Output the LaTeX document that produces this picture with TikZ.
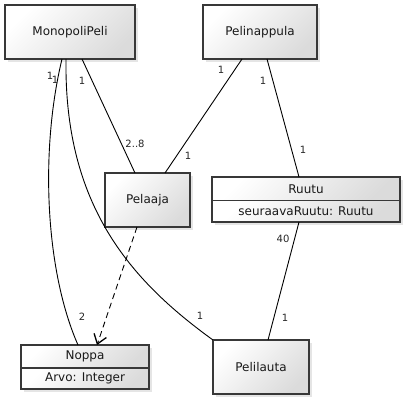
\documentclass[tikz,border=0pt]{standalone}
\usepackage{fontspec}
\setmainfont{DejaVu Sans}
\usetikzlibrary{shadows,shadings,arrows.meta}
\begin{document}
\begin{tikzpicture}[x=1pt,y=-1pt,
  umlbox/.style={draw=black!78,line width=1.2pt,rectangle,inner sep=0pt,outer sep=0pt,
    shading=axis,top color=white,bottom color=black!14,shading angle=45,
    drop shadow={opacity=0.2,shadow xshift=2.5pt,shadow yshift=-2.5pt},
    font=\fontsize{12}{14}\selectfont,text=black!90},
  conn/.style={line width=0.9pt,black},
  mult/.style={font=\fontsize{10}{12}\selectfont,text=black!85,inner sep=0pt}]
\useasboundingbox[fill=white] (0,0) rectangle (403,400);
% classes
\node[umlbox,minimum width=130pt,minimum height=54pt] (mono) at (70,32) {MonopoliPeli};
\node[umlbox,minimum width=114pt,minimum height=54pt] (nappula) at (260,32) {Pelinappula};
\node[umlbox,minimum width=85pt,minimum height=54pt] (pelaaja) at (147.5,200) {Pelaaja};
\node[umlbox,minimum width=188pt,minimum height=23.7pt] (ruutu) at (306,188.85) {Ruutu};
\node[umlbox,minimum width=188pt,minimum height=21.3pt] (ruutuattr) at (306,211.35) {seuraavaRuutu: Ruutu};
\node[umlbox,minimum width=128pt,minimum height=23pt] (noppa) at (85,356.5) {Noppa};
\node[umlbox,minimum width=128pt,minimum height=21pt] (noppaattr) at (85,378.5) {Arvo: Integer};
\node[umlbox,minimum width=96pt,minimum height=54pt] (lauta) at (261,367) {Pelilauta};
% connectors
\draw[conn] ([xshift=12pt]mono.south) -- ([xshift=-12.5pt]pelaaja.north);
\draw[conn] ([xshift=-18pt]nappula.south) -- ([xshift=17.5pt]pelaaja.north);
\draw[conn] ([xshift=7pt]nappula.south) -- ([xshift=-7pt]ruutu.north);
\draw[conn] ([xshift=-7pt]ruutuattr.south) -- ([xshift=7pt]lauta.north);
\draw[conn] ([xshift=-8pt]mono.south) .. controls (40,150) and (45,270) .. ([xshift=-7pt]noppa.north);
\draw[conn] ([xshift=-4pt]mono.south) .. controls (64,205) and (130,280) .. (lauta.north west);
\draw[conn,dash pattern=on 6pt off 4pt,-{Straight Barb[length=9pt,width=13pt,line width=1.3pt]}]
  ([xshift=-10.5pt]pelaaja.south) -- ([xshift=12pt]noppa.north);
% multiplicities
\node[mult] (m1) at (82,81) {1};
\node[mult] (m2) at (50,76) {1};
\node[mult] (m3) at (55,79.5) {1};
\node[mult] (m4) at (135,144) {2..8};
\node[mult] (m5) at (188,156) {1};
\node[mult] (m6) at (221,70) {1};
\node[mult] (m7) at (263,81) {1};
\node[mult] (m8) at (303,150) {1};
\node[mult] (m9) at (283,239) {40};
\node[mult] (m10) at (285,318) {1};
\node[mult] (m11) at (200,316) {1};
\node[mult] (m12) at (82,317) {2};
\end{tikzpicture}
\end{document}
